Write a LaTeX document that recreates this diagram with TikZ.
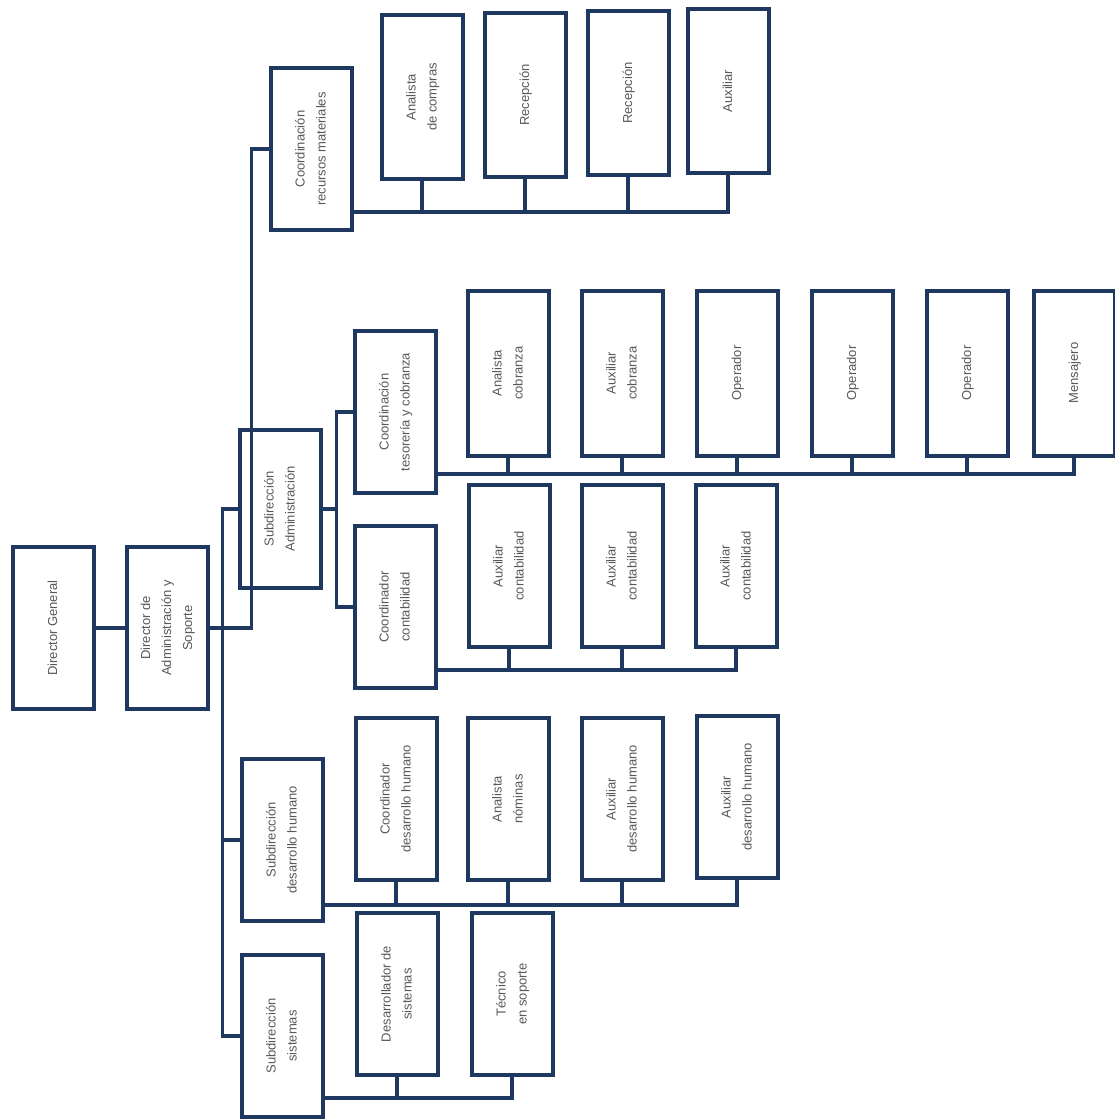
\documentclass[tikz,border=0pt]{standalone}
\usepackage{fontspec}
\setmainfont{Liberation Sans}
\usepackage{graphicx}
\definecolor{azul}{RGB}{31,56,96}
\newcommand{\vtext}[1]{\rotatebox{90}{\begin{tabular}{@{}c@{}}#1\end{tabular}}}

\begin{document}
\begin{tikzpicture}[x=1pt,y=-1pt,
  puesto/.style={draw=azul, line width=4pt, fill=white, minimum width=81pt, minimum height=162pt, inner sep=0pt, text=black!65, font=\fontsize{13}{21}\selectfont},
  linea/.style={draw=azul, line width=3.2pt}]
\useasboundingbox (0,0) rectangle (1115,1120);
\node[puesto] (dg) at (53,628) {\vtext{Director General}};
\node[puesto] (das) at (167,628) {\vtext{Director de\\Administración y\\Soporte}};
\node[puesto, minimum height=158pt] (sadm) at (280,509) {\vtext{Subdirección\\Administración}};
\node[puesto] (crm) at (311,149) {\vtext{Coordinación\\recursos materiales}};
\node[puesto, minimum height=164pt] (acomp) at (422,97) {\vtext{Analista\\de compras}};
\node[puesto, minimum height=164pt] (rec1) at (525,95) {\vtext{Recepción}};
\node[puesto, minimum height=164pt] (rec2) at (628,93) {\vtext{Recepción}};
\node[puesto, minimum height=164pt] (aux) at (728,91) {\vtext{Auxiliar}};
\node[puesto] (ctc) at (395,412) {\vtext{Coordinación\\tesorería y cobranza}};
\node[puesto, minimum height=165pt] (acob) at (508,373) {\vtext{Analista\\cobranza}};
\node[puesto, minimum height=165pt] (auxcob) at (622,373) {\vtext{Auxiliar\\cobranza}};
\node[puesto, minimum height=165pt] (op1) at (737,373) {\vtext{Operador}};
\node[puesto, minimum height=165pt] (op2) at (852,373) {\vtext{Operador}};
\node[puesto, minimum height=165pt] (op3) at (967,373) {\vtext{Operador}};
\node[puesto, minimum height=165pt] (mens) at (1074,373) {\vtext{Mensajero}};
\node[puesto] (ccont) at (395,607) {\vtext{Coordinador\\contabilidad}};
\node[puesto] (acont1) at (509,566) {\vtext{Auxiliar\\contabilidad}};
\node[puesto] (acont2) at (622,566) {\vtext{Auxiliar\\contabilidad}};
\node[puesto] (acont3) at (736,566) {\vtext{Auxiliar\\contabilidad}};
\node[puesto] (sdh) at (282,840) {\vtext{Subdirección\\desarrollo humano}};
\node[puesto] (cdh) at (396,799) {\vtext{Coordinador\\desarrollo humano}};
\node[puesto] (anom) at (508,799) {\vtext{Analista\\nóminas}};
\node[puesto] (adh1) at (622,799) {\vtext{Auxiliar\\desarrollo humano}};
\node[puesto] (adh2) at (737,797) {\vtext{Auxiliar\\desarrollo humano}};
\node[puesto] (ssis) at (282,1036) {\vtext{Subdirección\\sistemas}};
\node[puesto] (dsis) at (397,994) {\vtext{Desarrollador de\\sistemas}};
\node[puesto] (tec) at (512,994) {\vtext{Técnico\\en soporte}};

\draw[linea] (dg.east) -- (das.west);
\coordinate (jrm) at ([xshift=-17pt]crm.west);
\draw[linea] (das.east) -- (das.east -| jrm) |- (crm.west);
\coordinate (jsub) at ([xshift=-15pt]sadm.west);
\draw[linea] (sadm.west) -- (jsub) |- (ssis.west);
\draw[linea] (jsub |- sdh.west) -- (sdh.west);
\coordinate (jadm) at ([xshift=-16pt]ctc.west);
\draw[linea] (sadm.east) -- (sadm.east -| jadm);
\draw[linea] (ctc.west) -- (jadm) |- (ccont.west);

\coordinate (brm) at (0,212);
\draw[linea] (crm.east |- brm) -| (aux.south);
\foreach \n in {acomp,rec1,rec2} \draw[linea] (\n.south) -- (\n.south |- brm);
\coordinate (btc) at (0,474);
\draw[linea] (ctc.east |- btc) -| (mens.south);
\foreach \n in {acob,auxcob,op1,op2,op3} \draw[linea] (\n.south) -- (\n.south |- btc);
\coordinate (bco) at (0,670);
\draw[linea] (ccont.east |- bco) -| (acont3.south);
\foreach \n in {acont1,acont2} \draw[linea] (\n.south) -- (\n.south |- bco);
\coordinate (bdh) at (0,905);
\draw[linea] (sdh.east |- bdh) -| (adh2.south);
\foreach \n in {cdh,anom,adh1} \draw[linea] (\n.south) -- (\n.south |- bdh);
\coordinate (bsi) at (0,1098);
\draw[linea] (ssis.east |- bsi) -| (tec.south);
\draw[linea] (dsis.south) -- (dsis.south |- bsi);
\end{tikzpicture}
\end{document}
